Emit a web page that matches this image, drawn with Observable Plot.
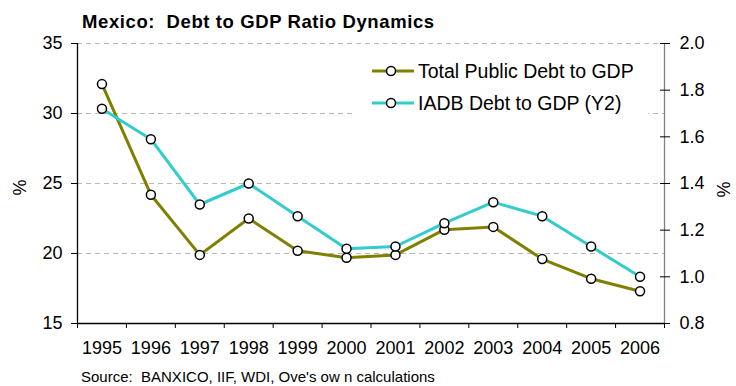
<!DOCTYPE html>
<html><head><meta charset="utf-8">
<script src="https://cdn.jsdelivr.net/npm/d3@7"></script>
<script src="https://cdn.jsdelivr.net/npm/@observablehq/plot@0.6"></script>
<style>
body{margin:0;background:#fff;font-family:"Liberation Sans",Arial,sans-serif;color:#000;}
#wrap{position:relative;width:736px;height:386px;overflow:hidden;background:#fff;}
#title{position:absolute;left:82px;top:11px;font-weight:bold;font-size:18.5px;white-space:nowrap;letter-spacing:0.6px;}
#chart{position:absolute;left:0;top:30px;}
#source{position:absolute;left:81px;top:368px;font-size:15px;white-space:nowrap;}
.ylab{position:absolute;font-size:18px;transform:rotate(-90deg);transform-origin:center;}
#legend{position:absolute;left:355px;top:52px;width:293px;height:66px;background:#fff;}
#legend .row{position:absolute;left:0;height:22px;}
#legend .txt{position:absolute;left:63px;font-size:19.5px;white-space:nowrap;}
</style>
</head><body>
<div id="wrap">
  <div id="title">Mexico:&nbsp; Debt to GDP Ratio Dynamics</div>
  <div id="chart"></div>
  <div class="ylab" style="left:12px;top:177px;">%</div>
  <div class="ylab" style="left:716px;top:179px;">%</div>
  <div id="legend"></div>
  <div id="source">Source:&nbsp; BANXICO, IIF, WDI, Ove's ow n calculations</div>
</div>
<script>
const years = [1995, 1996, 1997, 1998, 1999, 2000, 2001, 2002, 2003, 2004, 2005, 2006];
const totalDebt = [32.1, 24.2, 19.9, 22.5, 20.2, 19.7, 19.9, 21.7, 21.9, 19.6, 18.2, 17.3];
const iadbDebt = [1.72, 1.59, 1.31, 1.40, 1.26, 1.12, 1.13, 1.23, 1.32, 1.26, 1.13, 1.00];
const leftTicks = [15, 20, 25, 30, 35];
const gridTicks = [20, 25, 30, 35];
const rightTicks = [0.8, 1.0, 1.2, 1.4, 1.6, 1.8, 2.0];
const seriesNames = ["Total Public Debt to GDP", "IADB Debt to GDP (Y2)"];
const seriesColors = ["#808000", "#33CCCC"];

// Y2 (0.8–2.0) mapped onto Y1 (15–35)
const y2ToY1 = v => 15 + (v - 0.8) / 1.2 * 20;
const y1ToY2 = v => (v - 15) * 1.2 / 20 + 0.8;

const totalData = years.map((y, i) => ({year: y, value: totalDebt[i]}));
const iadbData = years.map((y, i) => ({year: y, value: iadbDebt[i]}));
const xEdges = d3.range(years[0] - 0.5, years[years.length - 1] + 1, 1);

const plot = Plot.plot({
  width: 736,
  height: 334,
  marginLeft: 77,
  marginRight: 72,
  marginTop: 13,
  marginBottom: 41,
  style: {fontFamily: "'Liberation Sans', Arial, sans-serif", fontSize: "18px", color: "#000", background: "transparent"},
  x: {domain: [years[0] - 0.5, years[years.length - 1] + 0.5]},
  y: {domain: [15, 35]},
  marks: [
    Plot.gridY(gridTicks, {stroke: "#b8b8b8", strokeOpacity: 1, strokeDasharray: "5,4"}),
    Plot.ruleX([years[years.length - 1] + 0.5], {stroke: "#808080", strokeWidth: 1.3}),
    Plot.ruleX([years[0] - 0.5], {stroke: "#000", strokeWidth: 1.3}),
    Plot.ruleY([15], {stroke: "#000", strokeWidth: 1.3}),
    Plot.axisY(leftTicks, {anchor: "left", tickSize: 6, tickPadding: 9, label: null, fontSize: 18}),
    Plot.axisY(rightTicks.map(y2ToY1), {anchor: "right", tickSize: 10, dx: -5, tickPadding: 10, label: null, fontSize: 18,
      stroke: "#000", tickFormat: d => y1ToY2(d).toFixed(1)}),
    Plot.axisX(xEdges, {anchor: "bottom", tickSize: 5, tickFormat: () => "", label: null}),
    Plot.axisX(years, {anchor: "bottom", tickSize: 0, tickPadding: 18, tickFormat: d => String(d), label: null, fontSize: 18}),
    Plot.line(totalData, {x: "year", y: "value", stroke: seriesColors[0], strokeWidth: 3}),
    Plot.line(iadbData, {x: "year", y: d => y2ToY1(d.value), stroke: seriesColors[1], strokeWidth: 3}),
    Plot.dot(totalData, {x: "year", y: "value", r: 4.5, fill: "#fff", stroke: "#000", strokeWidth: 1.5}),
    Plot.dot(iadbData, {x: "year", y: d => y2ToY1(d.value), r: 4.5, fill: "#fff", stroke: "#000", strokeWidth: 1.5})
  ]
});
document.getElementById("chart").appendChild(plot);

// legend
const legend = document.getElementById("legend");
seriesNames.forEach((name, i) => {
  const top = 8 + i * 32;
  const row = document.createElement("div");
  row.className = "row";
  row.style.top = top + "px";
  row.innerHTML = `<svg width="62" height="22" style="position:absolute;left:0;top:0">
    <line x1="17" y1="11" x2="59" y2="11" stroke="${seriesColors[i]}" stroke-width="3"/>
    <circle cx="36" cy="11" r="4.5" fill="#fff" stroke="#000" stroke-width="1.5"/></svg>
    <div class="txt" style="top:0px;line-height:22px">${name}</div>`;
  legend.appendChild(row);
});
</script>
</body></html>
